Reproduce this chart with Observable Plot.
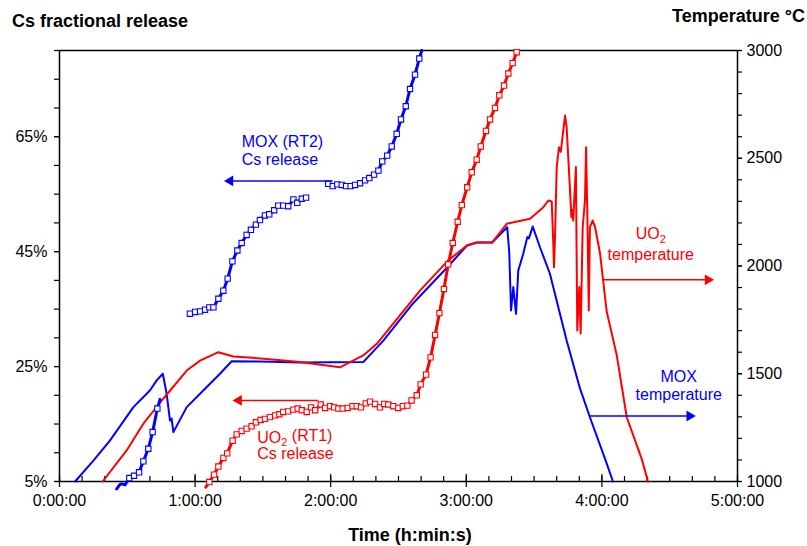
<!DOCTYPE html>
<html><head><meta charset="utf-8">
<script src="https://cdn.jsdelivr.net/npm/d3@7"></script>
<script src="https://cdn.jsdelivr.net/npm/@observablehq/plot@0.6"></script>
<style>body{margin:0;background:#fff} svg{display:block}</style>
</head><body><div id="chart"></div>
<script>
// ---- data (time in minutes) ----
const moxTempTime = [6.9,15.0,22.3,32.7,40.0,43.0,45.7,47.4,48.9,49.6,50.4,56.3,63.6,71.0,76.2,88.7,106.4,134.4,143.3,156.4,171.5,180.3,184.7,191.4,198.1,199.0,199.8,200.8,202.0,203.0,205.2,207.0,207.7,209.4,212.6,217.0,224.4,230.3,234.7,241.4,244.9];
const moxTempValue = [1000,1097,1190,1345,1422,1469,1500,1408,1283,1292,1229,1345,1422,1500,1558,1557,1552,1554,1654,1826,1993,2095,2109,2109,2180,2064,1794,1902,1778,1979,2057,2134,2128,2183,2087,1964,1654,1432,1298,1105,1000];

const uo2TempTime = [19.1,29.7,37.1,45.9,56.3,62.2,70.3,76.9,91.7,106.4,124.1,125.6,134.4,140.4,159.5,171.9,180.3,184.7,191.4,197.9,208.2,214.1,216.3,217.8,218.5,218.8,219.3,220.0,221.0,221.8,222.6,223.7,224.4,225.9,226.5,226.9,227.3,228.5,229.1,230.0,230.6,231.5,232.5,233.0,233.5,234.2,234.7,235.9,237.0,239.2,242.1,246.5,251.0,257.6,260.4];
const uo2TempValue = [1000,1144,1268,1384,1515,1561,1600,1580,1569,1554,1530,1538,1585,1639,1886,2025,2095,2109,2109,2196,2219,2273,2304,2300,2100,1994,2150,2459,2551,2530,2600,2698,2644,2350,2227,2260,2211,2459,1701,1902,1687,2180,2304,2551,2273,1794,2180,2211,2180,2057,1790,1590,1298,1105,1000];

const uo2ReleaseTime = [64.7,66.3,68.4,70.3,72.5,74.2,76.6,78.4,80.6,82.8,85.0,86.9,89.0,90.9,93.1,95.4,97.3,99.0,101.2,103.5,105.4,107.2,109.4,111.3,113.1,115.6,117.5,119.7,121.5,123.4,125.3,127.5,129.7,131.5,133.4,135.5,137.4,139.6,141.8,143.7,145.5,147.7,149.9,151.9,153.9,155.8,158.1,159.8,162.2,164.2,166.2,168.1,170.1,172.0,174.0,176.2,178.0,180.4,182.4,184.6,186.4,188.7,190.5,192.7,194.6,196.7,198.6,200.5,202.3,202.9];
const uo2ReleaseValue = [4.0,4.9,6.2,7.6,9.1,9.9,12.1,13.2,13.8,14.2,14.6,15.3,15.7,15.9,16.2,16.5,16.7,17.1,17.2,17.5,17.7,17.4,17.1,17.9,17.4,18.4,17.8,18.1,17.9,17.7,17.7,17.8,18.1,18.1,17.9,18.6,18.9,18.5,17.9,18.5,18.4,18.1,17.8,18.1,18.2,19.1,20.0,21.9,23.6,26.6,30.5,34.3,38.5,42.8,46.5,50.2,53.1,56.2,58.8,61.0,63.3,66.0,68.0,70.0,72.2,73.9,76.0,77.8,79.7,80.0];

const moxRelease1Time = [25.3,26.8,27.5,29.0,29.9,30.9,33.0,35.2,37.1,39.3,41.2,43.3,44.5];
const moxRelease1Value = [3.7,4.5,4.6,4.4,5.0,5.6,6.0,6.6,8.5,10.7,13.6,17.7,19.3];
const moxRelease2Time = [57.7,60.0,62.2,64.4,66.3,68.1,70.3,72.5,74.4,76.5,78.7,80.6,82.8,84.7,86.9,88.7,90.9,92.8,95.0,96.8,99.0,101.2,103.5,105.2,107.2,109.1];
const moxRelease2Value = [34.2,34.5,34.6,34.9,35.3,35.3,36.8,38.2,40.3,43.3,45.2,46.5,47.9,48.8,49.7,50.5,51.3,51.5,52.2,53.0,53.0,52.9,54.1,53.5,54.2,54.4];
const moxRelease3Time = [118.9,120.9,122.9,124.9,126.8,128.8,130.8,133.0,135.2,137.1,139.2,141.1,142.8,145.0,147.0,149.2,151.1,153.2,155.1,157.3,159.2,160.3];
const moxRelease3Value = [56.8,56.4,56.7,56.6,56.4,56.4,56.6,56.9,57.4,57.8,58.4,59.1,60.7,61.7,63.3,65.5,68.0,70.3,73.3,75.8,78.6,80.0];

const timeTicks = [0,60,120,180,240,300];
const percentTicks = [5,25,45,65];
const tempTicks = [1000,1500,2000,2500,3000];

// ---- helpers ----
const BLUE = "#0000ff", RED = "#ff0000";
const toV = T => 5 + (T - 1000) * 75 / 2000;      // temperature -> left-axis units
const fromV = v => 1000 + (v - 5) * 2000 / 75;
const fmtTime = m => `${Math.floor(m/60)}:${String(m%60).padStart(2,"0")}:00`;
const zip = (ts, vs, extra = {}) => ts.map((t, i) => ({t, v: vs[i], ...extra}));

const moxTemp = zip(moxTempTime, moxTempValue.map(toV));
const uo2Temp = zip(uo2TempTime, uo2TempValue.map(toV));
const uo2Rel = zip(uo2ReleaseTime, uo2ReleaseValue);
const moxRel = [
  ...zip(moxRelease1Time, moxRelease1Value, {seg: 1}),
  ...zip(moxRelease2Time, moxRelease2Value, {seg: 2}),
  ...zip(moxRelease3Time, moxRelease3Value, {seg: 3})
];
const moxMarks = [
  ...moxRel.filter(d => d.seg === 1).slice(5, 12),
  ...moxRel.filter(d => d.seg === 2),
  ...moxRel.filter(d => d.seg === 3).slice(0, -1)
];
const uo2Marks = uo2Rel.slice(1, -1);

const leftLabels = [
  {t: 80.6, v: 62.6, text: "MOX (RT2)\nCs release", color: BLUE},
  {t: 87.5, v: 11.2, text: "UO2 (RT1)\nCs release", color: RED}
];
const rightLabels = [
  {t: 261.6, v: 46.6, text: "UO2\ntemperature", color: RED},
  {t: 274.0, v: 21.7, text: "MOX\ntemperature", color: BLUE}
];
const arrows = [
  {x1: 120.8, x2: 75.5, y: 57.3, color: BLUE, dir: -90},
  {x1: 114.5, x2: 79.3, y: 19.1, color: RED, dir: -90},
  {x1: 240.5, x2: 286.9, y: 40.1, color: RED, dir: 90},
  {x1: 234.7, x2: 278.8, y: 16.4, color: BLUE, dir: 90}
];

const blank = () => "";

const chart = Plot.plot({
  width: 807, height: 546,
  marginLeft: 59, marginRight: 70, marginTop: 50, marginBottom: 65,
  style: {fontFamily: "'Liberation Sans', Arial, sans-serif", fontSize: "16px", color: "black", background: "white"},
  x: {domain: [0, 300], label: null},
  y: {domain: [5, 80], label: null},
  marks: [
    // axes
    Plot.axisY(d3.range(5, 81, 5), {anchor: "left", tickSize: 5, tickFormat: blank, strokeWidth: 1.2}),
    Plot.axisY(percentTicks, {anchor: "left", tickSize: 5, tickPadding: 7, tickFormat: d => d + "%", fontSize: 16, strokeWidth: 1.2}),
    Plot.axisY(d3.range(1000, 3001, 100).map(toV), {anchor: "right", tickSize: 4, tickFormat: blank, strokeWidth: 1.2}),
    Plot.axisY(tempTicks.map(toV), {anchor: "right", tickSize: 4, tickPadding: 5, tickFormat: v => String(Math.round(fromV(v))), fontSize: 16, strokeWidth: 1.2}),
    Plot.axisX(d3.range(0, 301, 10), {anchor: "bottom", tickSize: -5, tickFormat: blank, strokeWidth: 1.2}),
    Plot.axisX(timeTicks, {anchor: "bottom", tickSize: -7, tickFormat: blank, strokeWidth: 1.2}),
    Plot.axisX(timeTicks, {anchor: "bottom", tickSize: 6, tickPadding: 7, tickFormat: fmtTime, fontSize: 16, strokeWidth: 1.2}),
    Plot.frame({stroke: "black", strokeWidth: 1.5}),
    // temperature lines
    Plot.line(moxTemp, {x: "t", y: "v", stroke: BLUE, strokeWidth: 2}),
    Plot.line(uo2Temp, {x: "t", y: "v", stroke: RED, strokeWidth: 2}),
    // release lines
    Plot.line(moxRel, {x: "t", y: "v", z: "seg", stroke: BLUE, strokeWidth: 3}),
    Plot.dot(moxMarks, {x: "t", y: "v", symbol: "square", r: 3, fill: "white", stroke: BLUE, strokeWidth: 1.1}),
    Plot.line(uo2Rel, {x: "t", y: "v", stroke: RED, strokeWidth: 3}),
    Plot.dot(uo2Marks, {x: "t", y: "v", symbol: "square", r: 3, fill: "white", stroke: RED, strokeWidth: 1.1}),
    // arrows
    Plot.link(arrows, {x1: "x1", x2: "x2", y1: "y", y2: "y", stroke: "color", strokeWidth: 1.5}),
    Plot.dot(arrows, {x: "x2", y: "y", symbol: "triangle", r: 4, fill: "color", stroke: null, rotate: "dir"}),
    // labels
    Plot.text(leftLabels, {x: "t", y: "v", text: "text", fill: "color", textAnchor: "start", lineAnchor: "middle", lineHeight: 1.12, fontSize: 16}),
    Plot.text(rightLabels, {x: "t", y: "v", text: "text", fill: "color", textAnchor: "middle", lineAnchor: "middle", lineHeight: 1.1, fontSize: 16})
  ]
});

// subscript for UO2
d3.select(chart).selectAll("tspan, text").each(function() {
  const el = d3.select(this);
  if (this.childElementCount === 0 && this.textContent.startsWith("UO2")) {
    const rest = this.textContent.slice(3);
    el.text("");
    el.append("tspan").text("UO");
    el.append("tspan").attr("dy", "0.3em").attr("font-size", "11px").text("2");
    el.append("tspan").attr("dy", "-0.3em").text(rest);
  }
});

// titles
const svg = d3.select(chart);
const title = (x, y, anchor, txt) => svg.append("text").attr("x", x).attr("y", y)
  .attr("text-anchor", anchor).attr("font-weight", "bold").attr("font-size", 18).attr("fill", "black").text(txt);
title(12, 27, "start", "Cs fractional release");
title(805, 22, "end", "Temperature °C");
title(410, 541, "middle", "Time (h:min:s)");

document.getElementById("chart").append(chart);
</script>
</body></html>
